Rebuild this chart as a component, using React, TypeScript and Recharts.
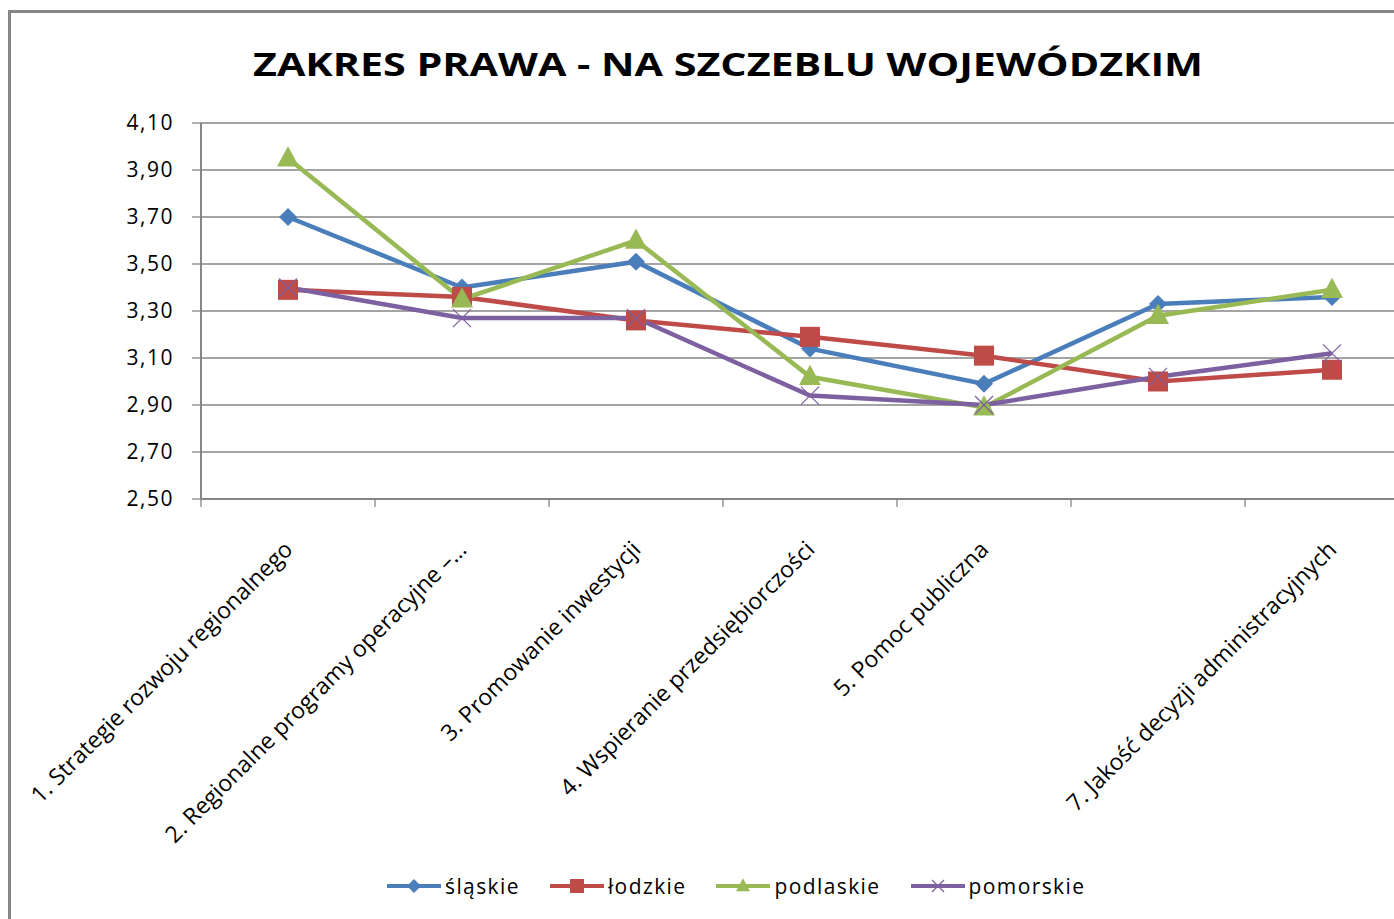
import React from 'react';
import { LineChart, Line, XAxis, YAxis, CartesianGrid } from 'recharts';

const categories = [
  '1. Strategie rozwoju regionalnego',
  '2. Regionalne programy operacyjne –…',
  '3. Promowanie inwestycji',
  '4. Wspieranie przedsiębiorczości',
  '5. Pomoc publiczna',
  '',
  '7. Jakość decyzji administracyjnych',
];

const slaskie = [3.7, 3.4, 3.51, 3.14, 2.99, 3.33, 3.36];
const lodzkie = [3.39, 3.36, 3.26, 3.19, 3.11, 3.0, 3.05];
const podlaskie = [3.95, 3.35, 3.6, 3.02, 2.89, 3.28, 3.39];
const pomorskie = [3.4, 3.27, 3.27, 2.94, 2.9, 3.02, 3.12];

const yTicks = [2.5, 2.7, 2.9, 3.1, 3.3, 3.5, 3.7, 3.9, 4.1];

const seriesNames = ['śląskie', 'łódzkie', 'podlaskie', 'pomorskie'];
const legendLabels = ['śląskie', 'łodzkie', 'podlaskie', 'pomorskie'];
const colors = ['#4A7EBB', '#BE4B48', '#98B954', '#7D60A0'];

const data = categories.map((name, i) => ({
  name,
  [seriesNames[0]]: slaskie[i],
  [seriesNames[1]]: lodzkie[i],
  [seriesNames[2]]: podlaskie[i],
  [seriesNames[3]]: pomorskie[i],
}));

const FONT = '"Open Sans", Arial, sans-serif';
const GRID = '#868686';
const CHART_W = 1440;
const CHART_H = 919;
const Y_W = 201;
const M_RIGHT = 21;
const BAND = (CHART_W - Y_W - M_RIGHT) / categories.length;

// marker shapes, one per series
function Marker({ kind, cx, cy, s, color }: any) {
  if (cx == null || cy == null) return null;
  if (kind === 0)
    return <polygon points={`${cx},${cy - s} ${cx + s},${cy} ${cx},${cy + s} ${cx - s},${cy}`} fill={color} />;
  if (kind === 1)
    return <rect x={cx - s} y={cy - s} width={s * 2} height={s * 2} fill={color} />;
  if (kind === 2)
    return <polygon points={`${cx},${cy - s * 1.1} ${cx + s},${cy + s * 0.75} ${cx - s},${cy + s * 0.75}`} fill={color} />;
  return (
    <g stroke={color} strokeWidth={1.2}>
      <line x1={cx - s} y1={cy - s} x2={cx + s} y2={cy + s} />
      <line x1={cx - s} y1={cy + s} x2={cx + s} y2={cy - s} />
    </g>
  );
}

const dotSizes = [9, 10, 11, 9];

function XTick(props: any) {
  const { x, y, payload, index } = props;
  const bx = x - BAND / 2;
  const tx = x + 6;
  const ty = y + 44;
  return (
    <g>
      <line x1={bx} x2={bx} y1={y - 8} y2={y} stroke={GRID} strokeWidth={1.3} />
      {index === categories.length - 1 && (
        <line x1={x + BAND / 2} x2={x + BAND / 2} y1={y - 8} y2={y} stroke={GRID} strokeWidth={1.3} />
      )}
      <text
        x={tx}
        y={ty}
        transform={`rotate(-45, ${tx}, ${ty})`}
        textAnchor="end"
        fontFamily={FONT}
        fontSize={23}
        fill="#000"
      >
        {payload.value}
      </text>
    </g>
  );
}

function LegendIcon({ kind, color }: any) {
  return (
    <svg width={54} height={20} style={{ display: 'block' }}>
      <line x1={0} x2={54} y1={10} y2={10} stroke={color} strokeWidth={4} />
      <Marker kind={kind} cx={27} cy={10} s={kind === 3 ? 6 : 7} color={color} />
    </svg>
  );
}

export default function App() {
  return (
    <div style={{ position: 'fixed', inset: 0, overflow: 'hidden', background: '#fff' }}>
      <div
        style={{
          position: 'absolute',
          left: 8,
          top: 10,
          width: 1440,
          height: 960,
          border: `3px solid ${GRID}`,
          boxSizing: 'border-box',
        }}
      />
      <svg style={{ position: 'absolute', left: 0, top: 0 }} width={1394} height={100}>
        <text
          x={253}
          y={76}
          textLength={950}
          lengthAdjust="spacingAndGlyphs"
          fontFamily={FONT}
          fontWeight="bold"
          fontSize={33}
          fill="#000"
        >
          ZAKRES PRAWA - NA SZCZEBLU WOJEWÓDZKIM
        </text>
      </svg>
      <div style={{ position: 'absolute', left: 0, top: 0 }}>
        <LineChart width={CHART_W} height={CHART_H} data={data} margin={{ top: 123, right: M_RIGHT, left: 0, bottom: 0 }}>
          <CartesianGrid vertical={false} stroke={GRID} strokeWidth={1.3} />
          <XAxis
            dataKey="name"
            interval={0}
            height={CHART_H - 123 - 376}
            padding={{ left: BAND / 2, right: BAND / 2 }}
            tickLine={false}
            tickSize={8}
            tickMargin={0}
            axisLine={{ stroke: GRID, strokeWidth: 2 }}
            tick={<XTick />}
          />
          <YAxis
            width={Y_W}
            domain={[2.5, 4.1]}
            ticks={yTicks}
            interval={0}
            tickSize={9}
            tickMargin={18}
            axisLine={{ stroke: GRID, strokeWidth: 2 }}
            tickLine={{ stroke: GRID, strokeWidth: 1.3 }}
            tick={{ fontSize: 21, fill: '#000', fontFamily: FONT, letterSpacing: 1.5 }}
            tickFormatter={(v: number) => v.toFixed(2).replace('.', ',')}
          />
          {seriesNames.map((key, i) => (
            <Line
              key={key}
              type="linear"
              dataKey={key}
              stroke={colors[i]}
              strokeWidth={4.5}
              isAnimationActive={false}
              dot={(p: any) => <Marker key={`${key}-${p.index}`} kind={i} cx={p.cx} cy={p.cy} s={dotSizes[i]} color={colors[i]} />}
              activeDot={false}
            />
          ))}
        </LineChart>
      </div>
      <div
        style={{
          position: 'absolute',
          left: 387,
          top: 874,
          display: 'flex',
          alignItems: 'center',
          gap: 30,
          fontFamily: FONT,
          fontSize: 21,
          letterSpacing: 1.4,
          color: '#000',
        }}
      >
        {legendLabels.map((label, i) => (
          <div key={label} style={{ display: 'flex', alignItems: 'center' }}>
            <LegendIcon kind={i} color={colors[i]} />
            <span style={{ marginLeft: 4, lineHeight: '24px' }}>{label}</span>
          </div>
        ))}
      </div>
    </div>
  );
}
